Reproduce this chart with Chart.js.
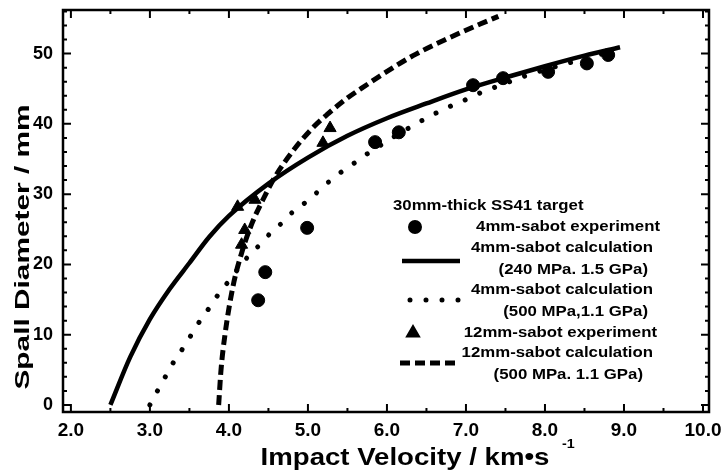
<!DOCTYPE html>
<html>
<head>
<meta charset="utf-8">
<script src="https://cdn.jsdelivr.net/npm/chart.js@4.4.1/dist/chart.umd.min.js"></script>
<style>
  html, body { margin: 0; padding: 0; background: #fff; }
  #wrap { width: 722px; height: 474px; }
</style>
</head>
<body>
<div id="wrap"><canvas id="spallChart" width="722" height="474"></canvas></div>
<script>
// values (km/s vs mm)
const exp4mmX = [4.37, 4.46, 4.99, 5.85, 6.15, 7.09, 7.47, 8.04, 8.53, 8.80];
const exp4mmY = [14.9, 18.9, 25.2, 37.4, 38.8, 45.5, 46.5, 47.4, 48.6, 49.8];

const exp12mmX = [4.11, 4.33, 4.20, 4.16, 5.19, 5.28];
const exp12mmY = [28.2, 29.2, 24.9, 22.8, 37.3, 39.4];

const calc4mmAX = [2.50, 2.75, 3.00, 3.25, 3.50, 3.75, 4.00, 4.50, 5.00, 5.50, 6.00, 6.50, 7.00, 7.50, 8.00, 8.50, 8.95];
const calc4mmAY = [0.0, 6.8, 12.2, 16.5, 20.2, 23.9, 26.9, 31.5, 35.2, 38.3, 40.8, 42.9, 44.9, 46.6, 48.2, 49.7, 50.9];

const calc4mmBX = [3.00, 3.10, 3.20, 3.30, 3.42, 3.53, 3.63, 3.75, 3.87, 3.99, 4.24, 4.39, 4.53, 4.68, 4.82, 4.99, 5.13, 5.29, 5.44, 5.61, 5.76, 6.48, 6.84, 7.03, 7.20, 7.39, 7.77, 8.80];
const calc4mmBY = [0.0, 2.1, 4.1, 6.1, 8.1, 10.1, 11.9, 13.8, 15.8, 17.5, 21.1, 22.8, 24.5, 26.0, 27.6, 29.0, 30.4, 32.0, 33.3, 34.6, 35.8, 40.7, 42.7, 43.6, 44.5, 45.3, 46.9, 50.2];

const calc12mmX = [3.87, 3.90, 3.95, 4.05, 4.16, 4.29, 4.43, 4.58, 4.80, 5.05, 5.24, 5.49, 5.75, 5.91, 6.33, 6.76, 7.18, 7.41];
const calc12mmY = [0.0, 5.0, 10.0, 16.8, 21.6, 25.8, 29.2, 32.4, 36.0, 39.3, 41.3, 43.6, 45.6, 46.8, 49.7, 52.1, 54.2, 55.3];

const xTicks = [2, 3, 4, 5, 6, 7, 8, 9, 10];
const yTicks = [0, 10, 20, 30, 40, 50];

const legendTitle = '30mm-thick SS41 target';
const legendLines = [
  ['4mm-sabot experiment'],
  ['4mm-sabot calculation', '(240 MPa. 1.5 GPa)'],
  ['4mm-sabot calculation', '(500 MPa,1.1 GPa)'],
  ['12mm-sabot experiment'],
  ['12mm-sabot calculation', '(500 MPa. 1.1 GPa)']
];

const FONT = '"Liberation Sans", Arial, sans-serif';

function toPoints(xs, ys) {
  return xs.map((x, i) => ({ x: x, y: ys[i] }));
}

// scanned figure text is a bit wider than the plain font
function wideText(ctx, text, x, y, size, align, sx) {
  ctx.save();
  ctx.font = 'bold ' + size + 'px ' + FONT;
  ctx.textAlign = align;
  ctx.textBaseline = 'middle';
  ctx.translate(x, y);
  ctx.scale(sx, 1);
  ctx.fillText(text, 0, 0);
  ctx.restore();
}

const framePlugin = {
  id: 'frame',
  afterDraw(chart) {
    const ctx = chart.ctx;
    const a = chart.chartArea;
    const xs = chart.scales.x;
    const ys = chart.scales.y;
    ctx.save();
    ctx.strokeStyle = '#000';
    ctx.fillStyle = '#000';

    // frame
    ctx.lineWidth = 2.5;
    ctx.strokeRect(a.left, a.top, a.right - a.left, a.bottom - a.top);

    // inward ticks on all four sides
    ctx.lineWidth = 2;
    ctx.beginPath();
    for (let v = 2; v <= 10.001; v += 0.5) {
      const px = xs.getPixelForValue(v);
      const len = Number.isInteger(v) ? 8 : 4;
      ctx.moveTo(px, a.bottom); ctx.lineTo(px, a.bottom - len);
      ctx.moveTo(px, a.top); ctx.lineTo(px, a.top + len);
    }
    for (let v = 0; v <= 56; v += 2) {
      const py = ys.getPixelForValue(v);
      const len = v % 10 === 0 ? 8 : 4;
      ctx.moveTo(a.left, py); ctx.lineTo(a.left + len, py);
      ctx.moveTo(a.right, py); ctx.lineTo(a.right - len, py);
    }
    ctx.stroke();

    // axis titles
    ctx.save();
    ctx.translate(23, 247);
    ctx.rotate(-Math.PI / 2);
    wideText(ctx, 'Spall Diameter / mm', 0, 0, 21, 'center', 1.42);
    ctx.restore();

    wideText(ctx, 'Impact Velocity / km\u2022s', 405, 459, 23, 'center', 1.2);
    wideText(ctx, '-1', 562, 444, 13, 'left', 1.1);

    // legend
    const ds = chart.data.datasets;
    wideText(ctx, legendTitle, 393, 206, 15, 'left', 1.12);

    const rows = [
      { y: 227, right: 660 },
      { y: 248, right: 653, y2: 270, right2: 648 },
      { y: 290, right: 653, y2: 312, right2: 648 },
      { y: 333, right: 657 },
      { y: 353, right: 653, y2: 375, right2: 643 }
    ];
    legendLines.forEach((lines, i) => {
      const r = rows[i];
      wideText(ctx, lines[0], r.right, r.y, 15, 'right', 1.12);
      if (lines[1]) wideText(ctx, lines[1], r.right2, r.y2, 15, 'right', 1.12);
    });

    // legend symbols
    Chart.helpers.drawPoint(ctx, { pointStyle: 'circle', radius: 6, borderWidth: 1 }, 415, 227);
    Chart.helpers.drawPoint(ctx, { pointStyle: 'triangle', radius: 7, borderWidth: 1 }, 413, 333);
    ctx.fill();

    function sample(d, x1, x2, y) {
      ctx.save();
      ctx.lineWidth = d.borderWidth;
      ctx.lineCap = d.borderCapStyle || 'butt';
      ctx.setLineDash(d.borderDash || []);
      ctx.beginPath();
      ctx.moveTo(x1, y);
      ctx.lineTo(x2, y);
      ctx.stroke();
      ctx.restore();
    }
    sample(ds[1], 402, 460, 261);
    sample(ds[2], 410, 460, 300);
    sample(ds[4], 400, 455, 363);

    ctx.restore();
  }
};

const ctx = document.getElementById('spallChart').getContext('2d');
const myChart = new Chart(ctx, {
  type: 'scatter',
  data: {
    datasets: [
      {
        label: '4mm-sabot experiment',
        data: toPoints(exp4mmX, exp4mmY),
        pointStyle: 'circle',
        pointRadius: 6.5,
        backgroundColor: '#000',
        borderColor: '#000',
        showLine: false,
        order: 0
      },
      {
        label: '4mm-sabot calculation (240 MPa, 1.5 GPa)',
        data: toPoints(calc4mmAX, calc4mmAY),
        showLine: true,
        pointRadius: 0,
        borderColor: '#000',
        borderWidth: 4.5,
        borderCapStyle: 'butt',
        cubicInterpolationMode: 'monotone',
        order: 2
      },
      {
        label: '4mm-sabot calculation (500 MPa, 1.1 GPa)',
        data: toPoints(calc4mmBX, calc4mmBY),
        showLine: true,
        pointRadius: 0,
        borderColor: '#000',
        borderWidth: 5,
        borderDash: [0.001, 16],
        borderCapStyle: 'round',
        cubicInterpolationMode: 'monotone',
        order: 2
      },
      {
        label: '12mm-sabot experiment',
        data: toPoints(exp12mmX, exp12mmY),
        pointStyle: 'triangle',
        pointRadius: 7,
        backgroundColor: '#000',
        borderColor: '#000',
        showLine: false,
        order: 0
      },
      {
        label: '12mm-sabot calculation (500 MPa, 1.1 GPa)',
        data: toPoints(calc12mmX, calc12mmY),
        showLine: true,
        pointRadius: 0,
        borderColor: '#000',
        borderWidth: 5,
        borderDash: [10, 5],
        borderCapStyle: 'butt',
        cubicInterpolationMode: 'monotone',
        order: 2
      }
    ]
  },
  options: {
    responsive: false,
    animation: false,
    layout: { padding: { top: 10, right: 13, left: 0, bottom: 0 } },
    plugins: {
      legend: { display: false },
      tooltip: { enabled: false }
    },
    scales: {
      x: {
        type: 'linear',
        min: 1.9,
        max: 10.076,
        afterBuildTicks: scale => { scale.ticks = xTicks.map(v => ({ value: v })); },
        afterFit: scale => { scale.height = 62; scale.paddingLeft = 0; scale.paddingRight = 0; },
        grid: { display: false, drawTicks: false },
        border: { display: false },
        ticks: {
          color: '#000',
          padding: 7,
          maxRotation: 0,
          font: { family: FONT, size: 19, weight: 'bold' },
          callback: v => v.toFixed(1)
        }
      },
      y: {
        type: 'linear',
        min: -1.0,
        max: 56.2,
        afterBuildTicks: scale => { scale.ticks = yTicks.map(v => ({ value: v })); },
        afterFit: scale => { scale.width = 63; scale.paddingTop = 0; scale.paddingBottom = 0; },
        grid: { display: false, drawTicks: false },
        border: { display: false },
        ticks: {
          color: '#000',
          padding: 10,
          font: { family: FONT, size: 18, weight: 'bold' },
          callback: v => String(v)
        }
      }
    }
  },
  plugins: [framePlugin]
});
</script>
</body>
</html>
